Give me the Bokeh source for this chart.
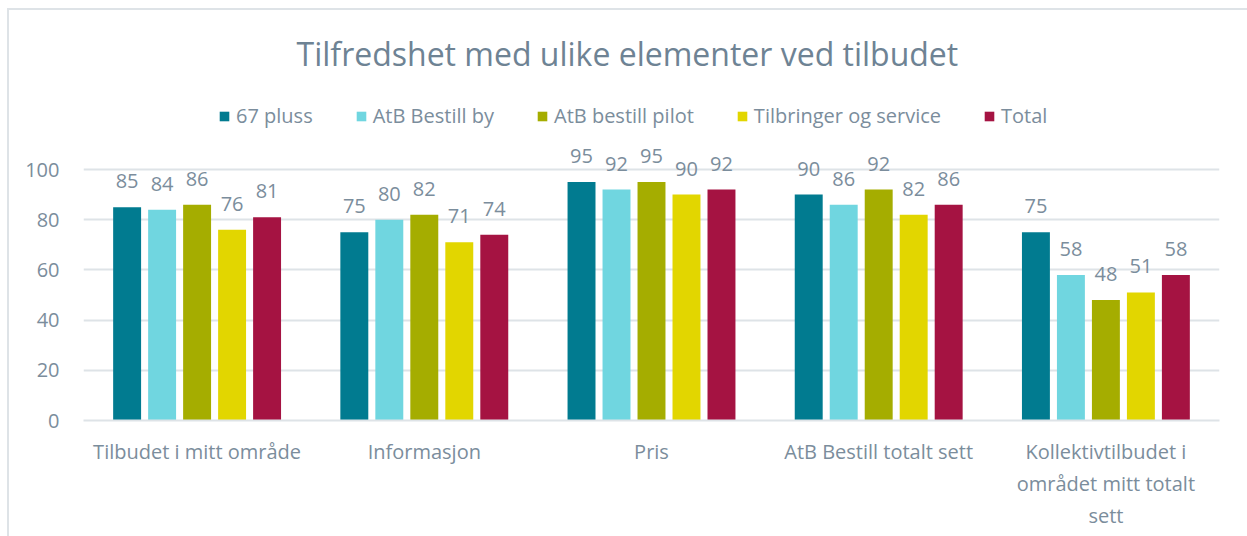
from bokeh.plotting import figure
from bokeh.layouts import column
from bokeh.models import ColumnDataSource, FactorRange, Label, Legend, FixedTicker
from bokeh.transform import dodge
from bokeh.core.properties import value
from bokeh.embed import file_html
from bokeh.resources import INLINE

categories = ["Tilbudet i mitt område", "Informasjon", "Pris",
              "AtB Bestill totalt sett", "Kollektivtilbudet i\nområdet mitt totalt\nsett"]
series_names = ["67 pluss", "AtB Bestill by", "AtB bestill pilot", "Tilbringer og service", "Total"]
pluss67 = [85, 75, 95, 90, 75]
bestill_by = [84, 80, 92, 86, 58]
bestill_pilot = [86, 82, 95, 92, 48]
tilbringer = [76, 71, 90, 82, 51]
total = [81, 74, 92, 86, 58]
yticks = [0, 20, 40, 60, 80, 100]

colors = ["#017B90", "#70D6E0", "#A5AD00", "#E2D600", "#A51342"]
FONT = "Open Sans"
TXT = "#7B8D9C"
GRID = "#DEE3E7"

all_series = [pluss67, bestill_by, bestill_pilot, tilbringer, total]
data = {"cat": categories}
for i, s in enumerate(all_series):
    data[f"s{i}"] = s
    data[f"l{i}"] = [str(v) for v in s]
source = ColumnDataSource(data)

p = figure(width=1238, height=526, x_range=FactorRange(*categories), y_range=(0, 163.35),
           output_backend="svg", toolbar_location=None,
           min_border_left=74, min_border_right=28, min_border_top=0, min_border_bottom=116)
p.outline_line_color = None
p.background_fill_color = "white"

offsets = [-0.308, -0.154, 0.0, 0.154, 0.308]
renderers = []
for i, name in enumerate(series_names):
    r = p.vbar(x=dodge("cat", offsets[i], range=p.x_range), top=f"s{i}", width=0.123,
               source=source, color=colors[i], line_color=None)
    renderers.append((name, [r]))
    p.text(x=dodge("cat", offsets[i], range=p.x_range), y=f"s{i}", text=f"l{i}", source=source,
           text_align="center", text_baseline="middle", y_offset=-26,
           text_font=value(FONT), text_font_size="20px", text_color=TXT)

legend = Legend(items=renderers, orientation="horizontal", location=(135, 291),
                glyph_width=12, glyph_height=12, label_standoff=6, spacing=42, padding=0,
                margin=0, border_line_color=None, background_fill_alpha=0,
                label_text_font=FONT, label_text_font_size="20px", label_text_color=TXT)
p.add_layout(legend, "center")

title = Label(x=2.394, y=146.2, text="Tilfredshet med ulike elementer ved tilbudet",
              text_align="center", text_baseline="middle", text_font=FONT,
              text_font_size="32px", text_color="#6E8394")
p.add_layout(title)

p.yaxis.ticker = FixedTicker(ticks=yticks)
p.yaxis.axis_line_color = None
p.yaxis.major_tick_line_color = None
p.yaxis.minor_tick_line_color = None
p.yaxis.major_label_standoff = 18
p.yaxis.major_label_text_font = FONT
p.yaxis.major_label_text_font_size = "20px"
p.yaxis.major_label_text_color = TXT

p.xaxis.axis_line_color = GRID
p.xaxis.axis_line_width = 2
p.xaxis.major_tick_line_color = None
p.xaxis.major_label_standoff = 11
p.xaxis.major_label_text_font = FONT
p.xaxis.major_label_text_font_size = "20px"
p.xaxis.major_label_text_color = TXT

p.xgrid.grid_line_color = None
p.ygrid.grid_line_color = GRID
p.ygrid.grid_line_width = 2

layout = column(p, styles={"margin-left": "7px", "margin-top": "8px",
                           "border-top": f"2px solid {GRID}", "border-left": f"2px solid {GRID}"})

open("out.html", "w").write(file_html(layout, INLINE))
